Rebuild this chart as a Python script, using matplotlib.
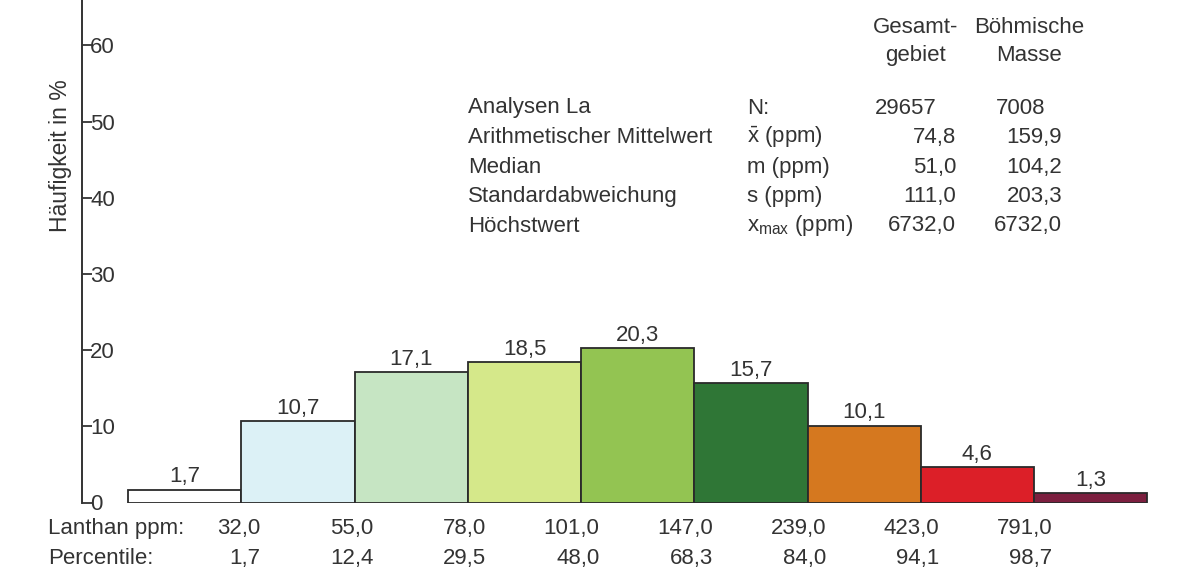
import matplotlib
matplotlib.use("Agg")
import matplotlib.pyplot as plt
import matplotlib.transforms as mtransforms

plt.rcParams['font.family'] = ['Liberation Sans', 'DejaVu Sans']
plt.rcParams['mathtext.fontset'] = 'custom'
plt.rcParams['mathtext.rm'] = 'Liberation Sans'

# ---- data ----
frequencies = [1.7, 10.7, 17.1, 18.5, 20.3, 15.7, 10.1, 4.6, 1.3]
bar_colors = ['#ffffff', '#dcf1f6', '#c6e5c3', '#d5e88a', '#93c452',
              '#2f7636', '#d5781f', '#dc1f28', '#7c1f3f']
lanthan_ppm = ['32,0', '55,0', '78,0', '101,0', '147,0', '239,0', '423,0', '791,0']
percentile = ['1,7', '12,4', '29,5', '48,0', '68,3', '84,0', '94,1', '98,7']
y_ticks = [0, 10, 20, 30, 40, 50, 60]

stat_names = ['Analysen La', 'Arithmetischer Mittelwert', 'Median',
              'Standardabweichung', 'Höchstwert']
stat_symbols = ['N:', r'$\mathregular{\bar{x}}$ (ppm)', 'm (ppm)', 's (ppm)',
                r'x$_{\mathregular{max}}$ (ppm)']
gesamt = ['29657', '74,8', '51,0', '111,0', '6732,0']
boehmisch = ['7008', '159,9', '104,2', '203,3', '6732,0']
col_headers = ['Gesamt-\ngebiet', 'Böhmische\nMasse']

TXT = '#333333'
FS = 16
W, H = 1183, 579

fig = plt.figure(figsize=(W / 100, H / 100), dpi=100)
ax = fig.add_axes([81.5 / W, (H - 502.5) / H, 1 - 81.5 / W, 502.5 / H])

xs = list(range(len(frequencies)))
ax.bar(xs, frequencies, width=1.0, align='edge', color=bar_colors,
       edgecolor='#2a2a2a', linewidth=1.3, zorder=2)

ax.set_xlim(-0.4134, 9.317)
ax.set_ylim(0, 65.97)

for s in ['top', 'right', 'bottom']:
    ax.spines[s].set_visible(False)
ax.spines['left'].set_color('#333333')
ax.spines['left'].set_linewidth(1.4)

ax.set_xticks([])
ax.set_yticks(y_ticks)
ax.set_yticklabels([str(t) for t in y_ticks])
ax.tick_params(axis='y', direction='in', length=7, width=1.3, color='#333333',
               labelsize=16, labelcolor=TXT, pad=-6.2)
for lbl in ax.get_yticklabels():
    lbl.set_horizontalalignment('left')

ax.set_ylabel('Häufigkeit in %', fontsize=16.5, color=TXT, va='center')
ax.yaxis.set_label_coords(-0.0195, 0.69)

# value labels above bars
for x, v in zip(xs, frequencies):
    ax.annotate(f'{v:.1f}'.replace('.', ','), (x + 0.5, v), xytext=(0, 1.5),
                textcoords='offset points', ha='center', va='bottom',
                fontsize=FS, color=TXT)

# bin edge labels
row_tr = mtransforms.blended_transform_factory(ax.transData, ax.transAxes) + \
    mtransforms.ScaledTranslation(0.185, 0, fig.dpi_scale_trans)
for i, (lp, pc) in enumerate(zip(lanthan_ppm, percentile)):
    ax.text(i + 1, -0.0527, lp, transform=row_tr, ha='right', va='center',
            fontsize=FS, color=TXT, clip_on=False)
    ax.text(i + 1, -0.111, pc, transform=row_tr, ha='right', va='center',
            fontsize=FS, color=TXT, clip_on=False)
ax.text(-0.0301, -0.0527, 'Lanthan ppm:', transform=ax.transAxes, ha='left',
        va='center', fontsize=FS, color=TXT, clip_on=False)
ax.text(-0.0301, -0.111, 'Percentile:', transform=ax.transAxes, ha='left',
        va='center', fontsize=FS, color=TXT, clip_on=False)

# statistics table
def fx(px):
    return px / W

def fy(py):
    return 1 - py / H

fig.text(fx(916), fy(41.5), col_headers[0], ha='center', va='center',
         multialignment='center', fontsize=FS, color=TXT, linespacing=1.4)
fig.text(fx(1029), fy(41.5), col_headers[1], ha='center', va='center',
         multialignment='center', fontsize=FS, color=TXT, linespacing=1.4)

row_y = [108, 137.5, 167, 196.5, 226]
for i, y in enumerate(row_y):
    fig.text(fx(468), fy(y), stat_names[i], ha='left', va='center',
             fontsize=FS, color=TXT)
    fig.text(fx(747), fy(y), stat_symbols[i], ha='left', va='center',
             fontsize=FS, color=TXT)
    if i == 0:
        fig.text(fx(875), fy(y), gesamt[i], ha='left', va='center',
                 fontsize=FS, color=TXT)
        fig.text(fx(996), fy(y), boehmisch[i], ha='left', va='center',
                 fontsize=FS, color=TXT)
    else:
        fig.text(fx(956), fy(y), gesamt[i], ha='right', va='center',
                 fontsize=FS, color=TXT)
        fig.text(fx(1062), fy(y), boehmisch[i], ha='right', va='center',
                 fontsize=FS, color=TXT)

fig.savefig('out.png', dpi=100, facecolor='white')
